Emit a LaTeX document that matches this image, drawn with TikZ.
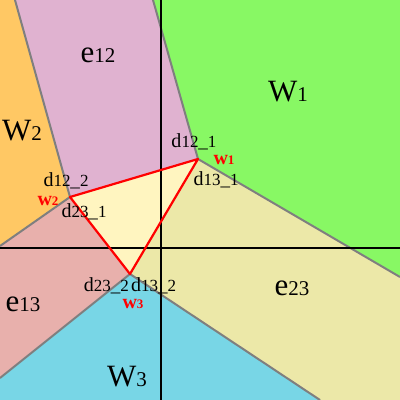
\documentclass[tikz,border=0pt]{standalone}
\usepackage{fontspec}
\setmainfont{Liberation Serif}
\usepackage{tikz}
\usetikzlibrary{positioning}
\definecolor{cellW1}{HTML}{88F864}
\definecolor{cellW2}{HTML}{FFC864}
\definecolor{cellW3}{HTML}{78D6E6}
\definecolor{celle12}{HTML}{E0B2D0}
\definecolor{celle13}{HTML}{E8B0AC}
\definecolor{celle23}{HTML}{ECE8A8}
\definecolor{inner}{HTML}{FFF5C0}
\definecolor{edge}{HTML}{7F7F7F}
\newcommand{\cellname}[2]{{\fontsize{31}{31}\selectfont #1}{\fontsize{21}{21}\selectfont #2}}
\newcommand{\dname}[2]{{\fontsize{20}{20}\selectfont d}{\fontsize{17}{17}\selectfont #1}{\fontsize{19}{19}\selectfont\_}{\fontsize{17}{17}\selectfont #2}}
\newcommand{\wname}[1]{\bfseries{\fontsize{20}{20}\selectfont w}{\fontsize{13}{13}\selectfont #1}}

\begin{document}
\begin{tikzpicture}[x=1pt,y=-1pt,lbl/.style={inner sep=0pt,anchor=base}]
  \useasboundingbox (0,0) rectangle (400,400);
  \coordinate (w1) at (198,159);
  \coordinate (w2) at (70,197);
  \coordinate (w3) at (130,274);
  % where the cell borders leave the frame
  \coordinate (t1) at (153,0);
  \coordinate (t2) at (15,0);
  \coordinate (r1) at (400,277);
  \coordinate (l2) at (0,246);
  \coordinate (l3) at (0,378);
  \coordinate (b3) at (320,400);
  \fill[cellW1] (t1) -- (400,0) -- (r1) -- (w1) -- cycle;
  \fill[celle12] (t2) -- (t1) -- (w1) -- (w2) -- cycle;
  \fill[cellW2] (0,0) -- (t2) -- (w2) -- (l2) -- cycle;
  \fill[celle13] (l2) -- (w2) -- (w3) -- (l3) -- cycle;
  \fill[cellW3] (l3) -- (w3) -- (b3) -- (0,400) -- cycle;
  \fill[celle23] (w3) -- (w1) -- (r1) -- (400,400) -- (b3) -- cycle;
  \foreach \a/\b in {w1/t1,w1/r1,w2/t2,w2/l2,w3/l3,w3/b3}
    {\draw[edge,line width=2pt] (\a)--(\b);}
  \fill[inner] (w1) -- (w2) -- (w3) -- cycle;
  % axes
  \coordinate (ytop) at (161,0);
  \coordinate (ybot) at (161,400);
  \coordinate (xleft) at (0,248);
  \coordinate (xright) at (400,248);
  \draw[black,line width=1.6pt] (ytop)--(ybot);
  \draw[black,line width=1.6pt] (xleft)--(xright);
  \draw[red,line width=2.2pt,line join=round] (w1) -- (w2) -- (w3) -- cycle;
  % cell names
  \node[lbl] (nW1) at (288,101) {\cellname{W}{1}};
  \node[lbl] (nW2) at (22,140) {\cellname{W}{2}};
  \node[lbl] (nW3) at (127,386) {\cellname{W}{3}};
  \node[lbl] (ne12) at (98,62) {\cellname{e}{12}};
  \node[lbl] (ne13) at (23,311) {\cellname{e}{13}};
  \node[lbl] (ne23) at (292,295) {\cellname{e}{23}};
  % vertex labels
  \node[lbl] (d121) at (194,147) {\dname{12}{1}};
  \node[lbl] (d131) at (216,185) {\dname{13}{1}};
  \node[lbl] (d122) at (66,186) {\dname{12}{2}};
  \node[lbl] (d231) at (84,217) {\dname{23}{1}};
  \node[lbl,anchor=base east] (d232) at (129,291) {\dname{23}{2}};
  \node[lbl,anchor=base west] (d132) at (131,291) {\dname{13}{2}};
  \node[lbl,red] (nw1) at (224,164) {\wname{1}};
  \node[lbl,red] (nw2) at (48,205) {\wname{2}};
  \node[lbl,red] (nw3) at (133,308) {\wname{3}};
\end{tikzpicture}
\end{document}
